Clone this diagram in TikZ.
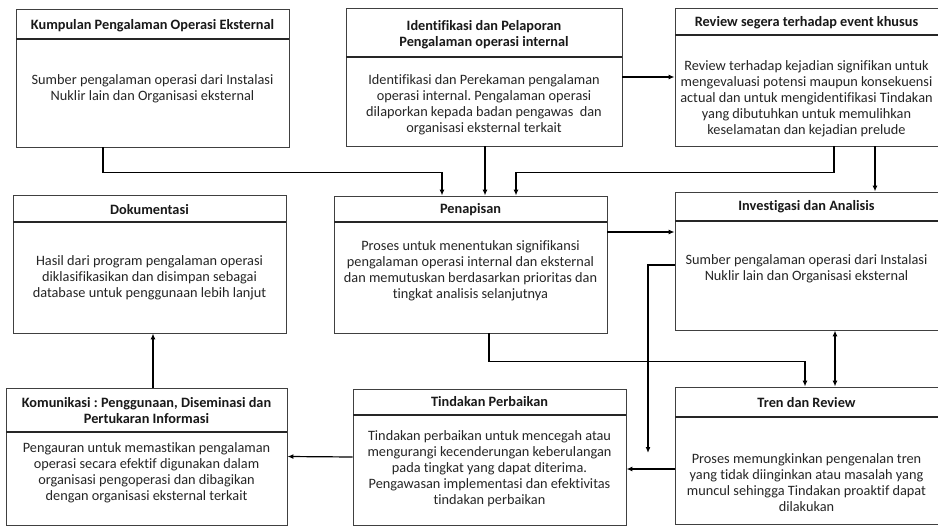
\documentclass[tikz,border=0pt]{standalone}
\usepackage{fontspec}
\setmainfont{Carlito}[Ligatures={NoCommon}]
\usetikzlibrary{fit,arrows.meta,calc}
\frenchspacing
\begin{document}
\begin{tikzpicture}[x=1pt,y=-1pt,
  boxframe/.style={draw=black!75,line width=0.9pt,inner sep=0pt},
  hdr/.style={draw=black!85,line width=1.2pt},
  ttl/.style={font=\fontsize{14.3}{16}\selectfont\bfseries,text=black!90,align=center,inner sep=0pt},
  bdy/.style={font=\fontsize{14.3}{16}\selectfont,text=black!85,align=center,inner sep=0pt},
  arr/.style={draw=black,line width=1.8pt,-{Latex[length=6pt,width=5pt]}},
  thinarr/.style={draw=black,line width=1.2pt,-{Latex[length=6pt,width=5pt]}},
  dblarr/.style={draw=black,line width=1.8pt,{Latex[length=6pt,width=5pt]}-{Latex[length=6pt,width=5pt]}}]
\useasboundingbox (0,0) rectangle (938,527);
\fill[white] (0,0) rectangle (938,527);

% Kumpulan
\node[boxframe,fit={(16,9) (289,147)}] (kum) {};
\draw[hdr] (16,39) -- (289,39);
\node[ttl] (kumt) at (152.5,26) {Kumpulan Pengalaman Operasi Eksternal};
\node[bdy] (kumb) at (152.5,89) {Sumber pengalaman operasi dari Instalasi\\Nuklir lain dan Organisasi eksternal};

% Identifikasi
\node[boxframe,fit={(346,8) (622,146)}] (ident) {};
\draw[hdr] (346,57) -- (622,57);
\node[ttl] (identt) at (484,35) {Identifikasi dan Pelaporan\\Pengalaman operasi internal};
\node[bdy] (identb) at (484,105) {Identifikasi dan Perekaman pengalaman\\operasi internal. Pengalaman operasi\\dilaporkan kepada badan pengawas\ \ dan\\organisasi eksternal terkait};

% Review
\node[boxframe,fit={(675,8) (938,146)}] (rev) {};
\draw[hdr] (675,35) -- (938,35);
\node[ttl] (revt) at (806.5,23) {Review segera terhadap event khusus};
\node[bdy] (revb) at (806.5,99) {Review terhadap kejadian signifikan untuk\\mengevaluasi potensi maupun konsekuensi\\actual dan untuk mengidentifikasi Tindakan\\yang dibutuhkan untuk memulihkan\\keselamatan dan kejadian prelude};

% Dokumentasi
\node[boxframe,fit={(13,195) (286,333)}] (dok) {};
\draw[hdr] (13,222) -- (286,222);
\node[ttl] (dokt) at (149.5,210) {Dokumentasi};
\node[bdy] (dokb) at (149.5,278) {Hasil dari program pengalaman operasi\\diklasifikasikan dan disimpan sebagai\\database untuk penggunaan lebih lanjut};

% Penapisan
\node[boxframe,fit={(334,196) (607,333)}] (pen) {};
\draw[hdr] (334,222) -- (607,222);
\node[ttl] (pent) at (470.5,210) {Penapisan};
\node[bdy] (penb) at (470.5,271) {Proses untuk menentukan signifikansi\\pengalaman operasi internal dan eksternal\\dan memutuskan berdasarkan prioritas dan\\tingkat analisis selanjutnya};

% Investigasi
\node[boxframe,fit={(675,192) (938,330)}] (inv) {};
\draw[hdr] (675,221) -- (938,221);
\node[ttl] (invt) at (806.5,207) {Investigasi dan Analisis};
\node[bdy] (invb) at (806.5,269) {Sumber pengalaman operasi dari Instalasi\\Nuklir lain dan Organisasi eksternal};

% Komunikasi
\node[boxframe,fit={(6,388) (287,525)}] (kom) {};
\draw[hdr] (6,432) -- (287,432);
\node[ttl] (komt) at (146.5,411) {Komunikasi : Penggunaan, Diseminasi dan\\Pertukaran Informasi};
\node[bdy] (komb) at (146.5,473) {Pengauran untuk memastikan pengalaman\\operasi secara efektif digunakan dalam\\organisasi pengoperasi dan dibagikan\\dengan organisasi eksternal terkait};

% Tindakan
\node[boxframe,fit={(353,389) (626,525)}] (tin) {};
\draw[hdr] (353,415) -- (626,415);
\node[ttl] (tint) at (489.5,402) {Tindakan Perbaikan};
\node[bdy] (tinb) at (489.5,469) {Tindakan perbaikan untuk mencegah atau\\mengurangi kecenderungan keberulangan\\pada tingkat yang dapat diterima.\\Pengawasan implementasi dan efektivitas\\tindakan perbaikan};

% Tren
\node[boxframe,fit={(675,387) (938,524)}] (tren) {};
\draw[hdr] (675,417) -- (938,417);
\node[ttl] (trent) at (806.5,403) {Tren dan Review};
\node[bdy] (trenb) at (806.5,483) {Proses memungkinkan pengenalan tren\\yang tidak diinginkan atau masalah yang\\muncul sehingga Tindakan proaktif dapat\\dilakukan};

% connectors
\draw[arr] ([xshift=-49.5pt]kum.south) -- ++(0,25) -| ([xshift=-28.5pt]pen.north);
\draw[arr] ([xshift=14.5pt]pen.north |- ident.south) -- ([xshift=14.5pt]pen.north);
\draw[arr] ([xshift=27.5pt]rev.south) -- ++(0,26) -| ([xshift=45.5pt]pen.north);
\draw[arr] ([xshift=68.5pt]rev.south) -- ([xshift=68.5pt]inv.north);
\draw[arr] (ident.east) -- (rev.west);
\draw[arr] ([yshift=32.5pt]pen.east) -- ([yshift=32.5pt]pen.east -| inv.west);
\draw[arr] ([xshift=18.5pt]pen.south) -- ++(0,28) -| ([xshift=-1.5pt]tren.north);
\draw[dblarr] ([xshift=28.5pt]inv.south) -- ([xshift=28.5pt]tren.north);
\coordinate (free) at (648,453);
\draw[arr] ([yshift=-4pt]inv.west) -| (free);
\draw[arr] ([yshift=-13.5pt]tren.west) -- ([yshift=-13.5pt]tren.west -| tin.east);
\draw[thinarr] (tin.west) -- (kom.east);
\draw[thinarr] ([xshift=6.5pt]kom.north) -- ([xshift=6.5pt]kom.north |- dok.south);
\end{tikzpicture}
\end{document}
